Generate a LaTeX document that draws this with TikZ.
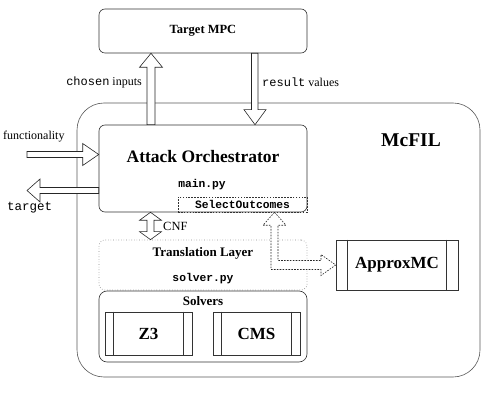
\documentclass[tikz,border=0pt]{standalone}
\usepackage{fontspec}
\setmainfont{Liberation Serif}
\setmonofont{Liberation Mono}
\usetikzlibrary{calc}
\begin{document}
\begin{tikzpicture}[x=1pt,y=-1pt,
  box/.style={draw=black!80,line width=0.6pt,rounded corners=6pt,inner sep=0pt,minimum width=208pt},
  proc/.style={draw=black!80,line width=0.6pt,inner sep=0pt,font=\bfseries\fontsize{17}{20}\selectfont},
  hollow/.style={draw=black!85,fill=white,line width=0.6pt,line join=miter},
  dhollow/.style={hollow,dashed,dash pattern=on 1.6pt off 1.3pt},
  lbl/.style={inner sep=0pt,font=\fontsize{12}{14}\selectfont},
  tt/.style={inner sep=0pt,font=\ttfamily\fontsize{12.5}{14}\selectfont},
  ttb/.style={inner sep=0pt,font=\ttfamily\bfseries\fontsize{11.3}{13}\selectfont}]
\useasboundingbox (0,0) rectangle (494,411);
% containers
\node[draw=black!65,line width=0.6pt,rounded corners=27pt,minimum width=403pt,minimum height=274pt,inner sep=0pt] (mcfil) at (278.5,240) {};
\node[box,minimum height=44pt] (mpc) at (203,31) {};
\node[inner sep=0pt,font=\bfseries\fontsize{12.5}{14}\selectfont] (mpct) at (203,31) {Target MPC};
\node[box,minimum height=87pt,fill=white] (ao) at (203,168.5) {};
\node[inner sep=0pt,font=\bfseries\fontsize{17.5}{20}\selectfont] (aot) at (203,157) {Attack Orchestrator};
\node[ttb] (mainpy) at (202,185) {main.py};
\node[draw=black!80,dashed,dash pattern=on 1.6pt off 1.3pt,line width=0.5pt,minimum width=129pt,minimum height=15pt,inner sep=0pt] (sel) at (242.5,204.5) {};
\node[ttb] (selt) at (242.5,204.5) {SelectOutcomes};
\node[inner sep=0pt,font=\bfseries\fontsize{19.5}{22}\selectfont] (mcfilt) at (411,140) {McFIL};
% translation layer
\node[box,draw=black!45,dotted,line width=0.7pt,minimum height=50pt] (trans) at (203,265) {};
\node[inner sep=0pt,font=\bfseries\fontsize{13}{15}\selectfont] (transt) at (203,253) {Translation Layer};
\node[ttb] (solverpy) at (203,279) {solver.py};
% solvers
\node[box,rounded corners=8pt,minimum height=71pt] (solvers) at (203,326.5) {};
\node[inner sep=0pt,font=\bfseries\fontsize{13}{15}\selectfont] (solverst) at (203,301) {Solvers};
\node[proc,minimum width=87pt,minimum height=43pt] (z3) at (148.5,333.5) {Z3};
\draw[black!80,line width=0.6pt] ($(z3.north west)+(9,0)$) -- ($(z3.south west)+(9,0)$)
  ($(z3.north east)+(-9,0)$) -- ($(z3.south east)+(-9,0)$);
\node[proc,minimum width=87pt,minimum height=43pt] (cms) at (256.5,333.5) {CMS};
\draw[black!80,line width=0.6pt] ($(cms.north west)+(9,0)$) -- ($(cms.south west)+(9,0)$)
  ($(cms.north east)+(-9,0)$) -- ($(cms.south east)+(-9,0)$);
\node[proc,minimum width=122pt,minimum height=50pt] (amc) at (397,265) {ApproxMC};
\draw[black!80,line width=0.6pt] ($(amc.north west)+(12,0)$) -- ($(amc.south west)+(12,0)$)
  ($(amc.north east)+(-12,0)$) -- ($(amc.south east)+(-12,0)$);
% chosen inputs (up)
\draw[hollow] let \p1=(ao.north), \p2=(mpc.south) in
  (147pt,\y1) -- (147pt,\y2-14pt) -- (139.5pt,\y2-14pt) -- (151pt,\y2) -- (162.5pt,\y2-14pt)
  -- (155pt,\y2-14pt) -- (155pt,\y1) -- cycle;
\node[lbl,anchor=east] (cil) at (142,82) {\texttt{chosen} inputs};
% result values (down)
\draw[hollow] let \p1=(mpc.south), \p2=(ao.north) in
  (251.5pt,\y1) -- (251.5pt,\y2+15pt) -- (244pt,\y2+15pt) -- (255pt,\y2) -- (266pt,\y2+15pt)
  -- (258pt,\y2+15pt) -- (258pt,\y1) -- cycle;
\node[lbl,anchor=west] (rvl) at (262,82) {\texttt{result} values};
% functionality
\coordinate (fin) at (27,154.5);
\draw[hollow] let \p1=(fin), \p2=(ao.west) in
  (\x1,\y1+3pt) -- (\x2-16pt,\y1+3pt) -- (\x2-16pt,\y1+11pt) -- (\x2,\y1) -- (\x2-16pt,\y1-11pt)
  -- (\x2-16pt,\y1-3pt) -- (\x1,\y1-3pt) -- cycle;
\node[lbl,anchor=west] (funl) at (3,137) {functionality};
% target
\coordinate (tout) at (27,190.5);
\draw[hollow] let \p1=(tout), \p2=(ao.west) in
  (\x2,\y1+3pt) -- (\x1+13pt,\y1+3pt) -- (\x1+13pt,\y1+11.5pt) -- (\x1,\y1) -- (\x1+13pt,\y1-11.5pt)
  -- (\x1+13pt,\y1-3pt) -- (\x2,\y1-3pt) -- cycle;
\node[tt,anchor=west] (tgl) at (7,208) {target};
% CNF double arrow
\draw[hollow] let \p1=(ao.south), \p2=(trans.north) in
  (150.5pt,\y1) -- (161.5pt,\y1-8pt) -- (154pt,\y1-8pt) -- (154pt,\y2+8pt) -- (161.5pt,\y2+8pt)
  -- (150.5pt,\y2) -- (139.5pt,\y2+8pt) -- (147pt,\y2+8pt) -- (147pt,\y1-8pt) -- (139.5pt,\y1-8pt) -- cycle;
\node[lbl,anchor=west,font=\fontsize{12.5}{14}\selectfont] (cnfl) at (163,226.5) {CNF};
% SelectOutcomes <-> ApproxMC dashed
\draw[dhollow] let \p1=(sel.south), \p2=(amc.west) in
  (274.5pt,\y1) -- (286pt,\y1-13pt) -- (278pt,\y1-13pt) -- (278pt,\y2+4.5pt) -- (321pt,\y2+4.5pt)
  -- (321pt,\y2+10.5pt) -- (\x2,\y2) -- (321pt,\y2-10.5pt) -- (321pt,\y2-4.5pt) -- (271pt,\y2-4.5pt)
  -- (271pt,\y1-13pt) -- (263pt,\y1-13pt) -- cycle;
\end{tikzpicture}
\end{document}
